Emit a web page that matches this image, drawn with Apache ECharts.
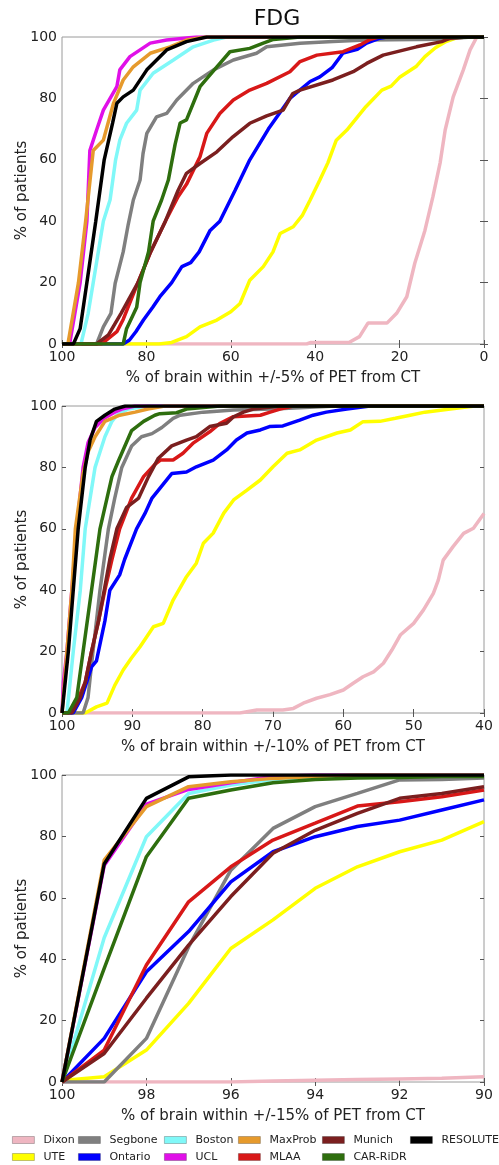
<!DOCTYPE html>
<html>
<head>
<meta charset="utf-8">
<script src="https://cdn.jsdelivr.net/npm/echarts@6/dist/echarts.min.js"></script>
<style>
  html, body { margin: 0; padding: 0; background: #fff; }
  #chart { width: 499px; height: 1165px; }
</style>
</head>
<body>
<div id="chart"></div>
<script>
// series names, in drawing order (later ones on top)
var names = ['Dixon', 'UTE', 'Segbone', 'Ontario', 'Boston', 'UCL', 'MaxProb', 'MLAA', 'Munich', 'CAR-RiDR', 'RESOLUTE'];
var colors = ['#efb6c1', '#ffff00', '#7f7f7f', '#0000ff', '#80f8f8', '#e010e8', '#e69a2c', '#d81818', '#7b1f1f', '#2e6e0e', '#000000'];

// legend columns (matplotlib fills them column by column)
var legendCols = [['Dixon', 'UTE'], ['Segbone', 'Ontario'], ['Boston', 'UCL'], ['MaxProb', 'MLAA'], ['Munich', 'CAR-RiDR'], ['RESOLUTE']];
var legendLeft = [12, 78, 164, 238, 322, 410];

var xNames = ['% of brain within +/-5% of PET from CT', '% of brain within +/-10% of PET from CT', '% of brain within +/-15% of PET from CT'];

// ---- panel 1 : +/-5%  ([x, y] pairs, x = % of brain, y = % of patients)
var p1Dixon = [[100,0],[42,0],[41,0.5],[32,0.5],[29.5,2.4],[27.5,6.8],[23,6.8],[20.7,10],[18.3,15.4],[16.4,26.3],[14,37],[12.1,48],[10.4,59],[9.2,69.7],[7.3,80.5],[4.9,89.3],[3.3,95.8],[1.7,100],[0,100]];
var p1Ute = [[100,0],[77,0],[74,0.5],[70.5,2.4],[67.3,5.6],[63.3,7.8],[60,10.5],[57.8,13.2],[55.5,20.8],[52.3,25.2],[50,30],[48.3,36],[45.2,38.2],[43,42],[41.2,46.9],[38.9,53.4],[37,59],[35,66.4],[32.5,69.7],[28,77.3],[24.2,82.7],[22,84],[19.9,87],[16,90.5],[14,93.6],[11.5,96.5],[9,98.5],[6,100],[0,100]];
var p1Segbone = [[100,0],[91.8,0],[90.2,5.6],[88.4,10],[87.4,19.8],[85.5,30],[84.3,39],[83.1,46.9],[81.5,53.4],[80.8,62],[79.9,68.6],[77.6,74],[75.2,75.1],[72.8,79.5],[68.9,84.9],[64.1,89.3],[59.4,92.5],[53.9,94.7],[51.5,96.8],[43.6,98],[35.8,98.5],[28,99],[10,99.3],[3,100],[0,100]];
var p1Ontario = [[100,0],[85.5,0],[84,1.3],[82.5,4],[80.7,7.8],[78.5,12],[76.8,15.4],[74,20],[71.6,25.2],[69.5,26.5],[67.5,30],[64.9,37],[62.6,40],[59,50],[55.5,60],[51.1,70],[46,80],[41.2,85.5],[38.9,87],[36,90],[33.4,94.8],[30,96],[27.8,98],[25,99.5],[23,100],[0,100]];
var p1Boston = [[100,0],[95.5,0],[93.8,10],[92.6,20],[90.2,40],[88.6,47],[87.3,60],[86.3,66.4],[84.7,71.9],[82.3,76.2],[81.5,82.7],[78.4,88.2],[73.6,92.5],[68.9,96.8],[64.1,99],[61,100],[0,100]];
var p1Ucl = [[100,0],[98.2,0],[95.7,20],[94.1,40],[93.4,63],[91.8,69.7],[90.2,76.2],[87,83.8],[86.3,89.3],[83.9,93.6],[79.1,98],[75.2,99],[68.1,100],[0,100]];
var p1MaxProb = [[100,0],[98.6,0],[96.1,20],[94.4,40],[92.6,63],[90.2,66.4],[87.8,78.4],[85.5,86],[83.1,90.3],[79.1,94.7],[74.4,96.8],[70.5,99],[66,100],[0,100]];
var p1Mlaa = [[100,0],[90.6,0],[87,4],[85.5,8],[82,20],[79,30],[75.5,40],[72.5,48],[70.5,52],[67.3,61],[65.7,68.6],[62.6,75.1],[59.4,79.5],[55.5,82.7],[51.5,84.9],[46,88.7],[43.6,92],[39.6,94.1],[33.4,95.2],[29.4,97.4],[27,99.2],[25,100],[0,100]];
var p1Munich = [[100,0],[91.8,0],[89,3],[86,10],[82,20],[79,30],[75.5,40],[72.5,50],[70.5,55.6],[67.3,58.8],[63.3,62.6],[59.5,67.5],[55.5,71.9],[51.5,74.3],[47.6,76.2],[45.3,81.6],[43.6,82.7],[35.8,86],[31,88.7],[27.8,91.4],[23.9,94.1],[16,96.8],[10,98.5],[8,99.6],[4,100],[0,100]];
var p1CarRidr = [[100,0],[85.5,0],[84.7,5],[82.3,12],[81.5,20],[79.5,30],[78.4,40],[76.4,46.9],[74.8,53.4],[73.2,65],[72,72],[70.5,73],[67.3,83.8],[63.3,90.3],[60.2,95.2],[55.5,96.3],[52.3,98],[49.9,99.2],[43.6,100],[0,100]];
var p1Resolute = [[100,0],[97.3,0],[95.7,5],[94.1,20],[92,40],[90,60],[88,72],[87,78.4],[85.5,80.5],[83.1,82.7],[79.9,89.3],[75.2,95.8],[70.5,98.5],[65.7,100],[0,100]];

// ---- panel 2 : +/-10%
var p2Dixon = [[100,0],[74.7,0],[72.3,1],[68.6,1],[67.1,1.5],[65.7,3.2],[63.8,4.8],[61.9,6],[60,7.5],[58.6,9.7],[57.2,11.8],[55.7,13.4],[54.3,16.2],[53.1,20.5],[51.9,25.4],[50,29.2],[48.6,33.6],[47.2,39],[46.5,43.3],[45.8,49.8],[44.4,54.2],[42.9,58.5],[41.5,60.2],[40,65]];
var p2Ute = [[100,0],[96.7,0],[95.1,2],[93.6,3.2],[92.5,9],[91.3,14],[90.1,18],[88.9,21.6],[87,28.1],[85.6,29.2],[84.2,36.8],[82.3,44.4],[80.9,48.8],[79.9,55.3],[78.5,58.6],[77,65.1],[75.6,69.4],[73.7,72.6],[71.8,75.9],[70,80.2],[68,84.6],[66.2,85.7],[63.8,88.9],[60.9,91.2],[59,92.2],[57.2,94.9],[54.8,95],[52.6,96],[50.5,97],[48.4,98],[44.8,99],[41.3,100],[40,100]];
var p2Segbone = [[100,0],[97,0],[96.3,5],[95.6,20],[94.6,40],[93.4,60],[92.5,70],[91.5,80],[90.1,87],[88.7,90],[87.2,91],[85.8,93],[84.2,96],[83.2,97],[79.9,98],[75.6,98.7],[70,99],[61,100],[40,100]];
var p2Ontario = [[100,0],[98.4,0],[97.2,5],[95.8,15],[95.1,17],[93.9,30],[93.2,40],[91.8,45],[91.1,50],[89.4,60],[88.2,65],[87.2,70],[85.8,74],[84.4,78],[82.3,78.5],[80.9,80.2],[78.5,82.4],[76.6,85.7],[75.2,88.9],[73.7,91.2],[71.8,92.2],[70.5,93.3],[68.6,93.5],[66.2,95.4],[64.3,97],[62.4,98],[59.5,99],[56.2,100],[40,100]];
var p2Boston = [[100,0],[99.3,0],[98.4,20],[97.4,40],[96.7,60],[95.3,80],[94.6,85],[93.9,90],[92.9,95],[92.2,97],[90.6,99],[87.8,100],[40,100]];
var p2Ucl = [[100,0],[99.8,10],[99.3,20],[98.6,40],[97.9,60],[97,80],[96.3,88],[95.3,93],[94,96],[92.5,98],[91.5,99],[89.6,100],[40,100]];
var p2MaxProb = [[100,0],[99.3,20],[98.6,40],[98.1,60],[97,78],[96.3,85],[95.3,90],[93.9,95],[91.8,97],[89.6,98],[87.8,99],[85.4,100],[40,100]];
var p2Mlaa = [[100,0],[99.1,0],[98.2,2],[96.7,10],[95.8,20],[94.8,30],[93.9,40],[92.9,50],[91.8,60],[90.1,70],[88.4,77],[86.8,81],[86,82.4],[84.2,82.4],[82.8,84.6],[81.3,88],[79,91.6],[77.5,94.4],[75.7,96.5],[71.8,97],[70.4,98],[69,99],[67.1,100],[40,100]];
var p2Munich = [[100,0],[98.6,0],[97.4,5],[96.7,10],[95.8,20],[94.8,30],[94,40],[93.2,50],[92.2,60],[90.8,67],[89.1,70],[87.7,77],[86.3,83],[84.4,87],[82.3,88.9],[80.9,90],[79,93.3],[76.6,94.4],[75.6,96.5],[74.2,98],[72.8,99],[69,100],[40,100]];
var p2CarRidr = [[100,0],[99.1,0],[97.9,5],[97,20],[95.8,40],[94.6,60],[92.9,77],[92,82],[90.1,92],[88.4,95],[86.8,97],[86.1,97.5],[83.7,97.8],[82.3,99],[77.5,100],[40,100]];
var p2Resolute = [[100,0],[99.1,20],[98.4,40],[97.7,60],[96.7,80],[96,89],[95.1,95],[93.9,97],[92.5,99],[91,100],[40,100]];

// ---- panel 3 : +/-15%  (one value per integer x)
var p3X = [100, 99, 98, 97, 96, 95, 94, 93, 92, 91, 90];
var p3Dixon = [0, 0, 0, 0, 0, 0.3, 0.6, 0.8, 1, 1.2, 1.7];
var p3Ute = [0.5, 1.7, 10.4, 25.6, 43.5, 52.8, 63.1, 70.1, 75, 78.8, 84.8];
var p3Segbone = [0, 0, 14.2, 44, 69, 82.6, 89.7, 94, 98.4, 98.5, 99];
var p3Ontario = [0, 14.2, 35.9, 49, 65.2, 75, 79.9, 83.2, 85.3, 88.6, 91.9];
var p3Boston = [0, 47, 79.9, 94, 96.7, 98.5, 99.3, 100, 100, 100, 100];
var p3Ucl = [0, 70.5, 90.5, 95.3, 97.5, 99.5, 100, 100, 100, 100, 100];
var p3MaxProb = [0, 72.3, 89.7, 96.2, 97.8, 98.9, 99.5, 100, 100, 100, 100];
var p3Mlaa = [0, 10.4, 38.1, 58.7, 70.1, 78.8, 84.3, 89.9, 91.3, 92.9, 95.1];
var p3Munich = [0, 9.3, 27.3, 44.6, 60.4, 74.5, 82, 87.5, 92.4, 94, 96.2];
var p3CarRidr = [0, 37, 73.4, 92.4, 95.1, 97.5, 98.5, 99, 99.2, 99.5, 99.5];
var p3Resolute = [0, 71, 92.4, 99.4, 100, 100, 100, 100, 100, 100, 100];

function zipX(ys) {
    return ys.map(function (y, i) { return [p3X[i], y]; });
}

var panels = [
    [p1Dixon, p1Ute, p1Segbone, p1Ontario, p1Boston, p1Ucl, p1MaxProb, p1Mlaa, p1Munich, p1CarRidr, p1Resolute],
    [p2Dixon, p2Ute, p2Segbone, p2Ontario, p2Boston, p2Ucl, p2MaxProb, p2Mlaa, p2Munich, p2CarRidr, p2Resolute],
    [p3Dixon, p3Ute, p3Segbone, p3Ontario, p3Boston, p3Ucl, p3MaxProb, p3Mlaa, p3Munich, p3CarRidr, p3Resolute].map(zipX)
];
var xRange = [[0, 100, 20], [40, 100, 10], [90, 100, 2]];
var gridTop = [37, 406, 775];

var font = 'DejaVu Sans';
var tickStyle = { inside: true, length: 4, lineStyle: { color: '#555', width: 1 } };

var grids = [], xAxes = [], yAxes = [], series = [];
for (var p = 0; p < 3; p++) {
    grids.push({
        left: 62, top: gridTop[p], width: 422, height: 307,
        show: true, borderColor: '#9a9a9a', borderWidth: 1, backgroundColor: 'transparent'
    });
    // bottom axis with labels
    xAxes.push({
        type: 'value', gridIndex: p, inverse: true,
        min: xRange[p][0], max: xRange[p][1], interval: xRange[p][2],
        name: xNames[p], nameLocation: 'middle', nameGap: 27,
        nameTextStyle: { fontFamily: font, fontSize: 15, color: '#222' },
        axisLine: { show: false }, axisTick: tickStyle, splitLine: { show: false },
        axisLabel: { fontFamily: font, fontSize: 14, color: '#222', margin: 6 }
    });
    // top axis for the inner ticks only
    xAxes.push({
        type: 'value', gridIndex: p, inverse: true, position: 'top',
        min: xRange[p][0], max: xRange[p][1], interval: xRange[p][2],
        axisLine: { show: false }, axisTick: tickStyle, splitLine: { show: false },
        axisLabel: { show: false }
    });
    yAxes.push({
        type: 'value', gridIndex: p, min: 0, max: 100, interval: 20,
        name: '% of patients', nameLocation: 'middle', nameGap: 32, nameMoveOverlap: false,
        nameTextStyle: { fontFamily: font, fontSize: 15, color: '#222' },
        axisLine: { show: false }, axisTick: tickStyle, splitLine: { show: false },
        axisLabel: { fontFamily: font, fontSize: 14, color: '#222', margin: 5 }
    });
    yAxes.push({
        type: 'value', gridIndex: p, position: 'right', min: 0, max: 100, interval: 20,
        axisLine: { show: false }, axisTick: tickStyle, splitLine: { show: false },
        axisLabel: { show: false }
    });
    for (var s = 0; s < names.length; s++) {
        series.push({
            name: names[s],
            type: 'line',
            xAxisIndex: p * 2,
            yAxisIndex: p * 2,
            data: panels[p][s],
            symbol: 'none',
            clip: true,
            z: 2 + s,
            itemStyle: { color: colors[s] },
            lineStyle: { color: colors[s], width: 3.5 }
        });
    }
}

var legends = legendCols.map(function (col, i) {
    return {
        orient: 'vertical', left: legendLeft[i], top: 1134, padding: 0,
        data: col, icon: 'rect', itemWidth: 22, itemHeight: 7, itemGap: 5,
        selectedMode: false,
        itemStyle: { borderColor: 'rgba(0,0,0,0.3)', borderWidth: 0.8 },
        textStyle: { fontFamily: font, fontSize: 11, color: '#222', lineHeight: 12, padding: [0, 0, 0, 4] }
    };
});

var chart = echarts.init(document.getElementById('chart'), null, { renderer: 'canvas' });
chart.setOption({
    animation: false,
    backgroundColor: '#fff',
    graphic: [{
        type: 'text', x: 277, y: 8,
        style: { text: 'FDG', fontFamily: font, fontSize: 22, fill: '#111', textAlign: 'center' }
    }],
    legend: legends,
    grid: grids,
    xAxis: xAxes,
    yAxis: yAxes,
    series: series
});
</script>
</body>
</html>
